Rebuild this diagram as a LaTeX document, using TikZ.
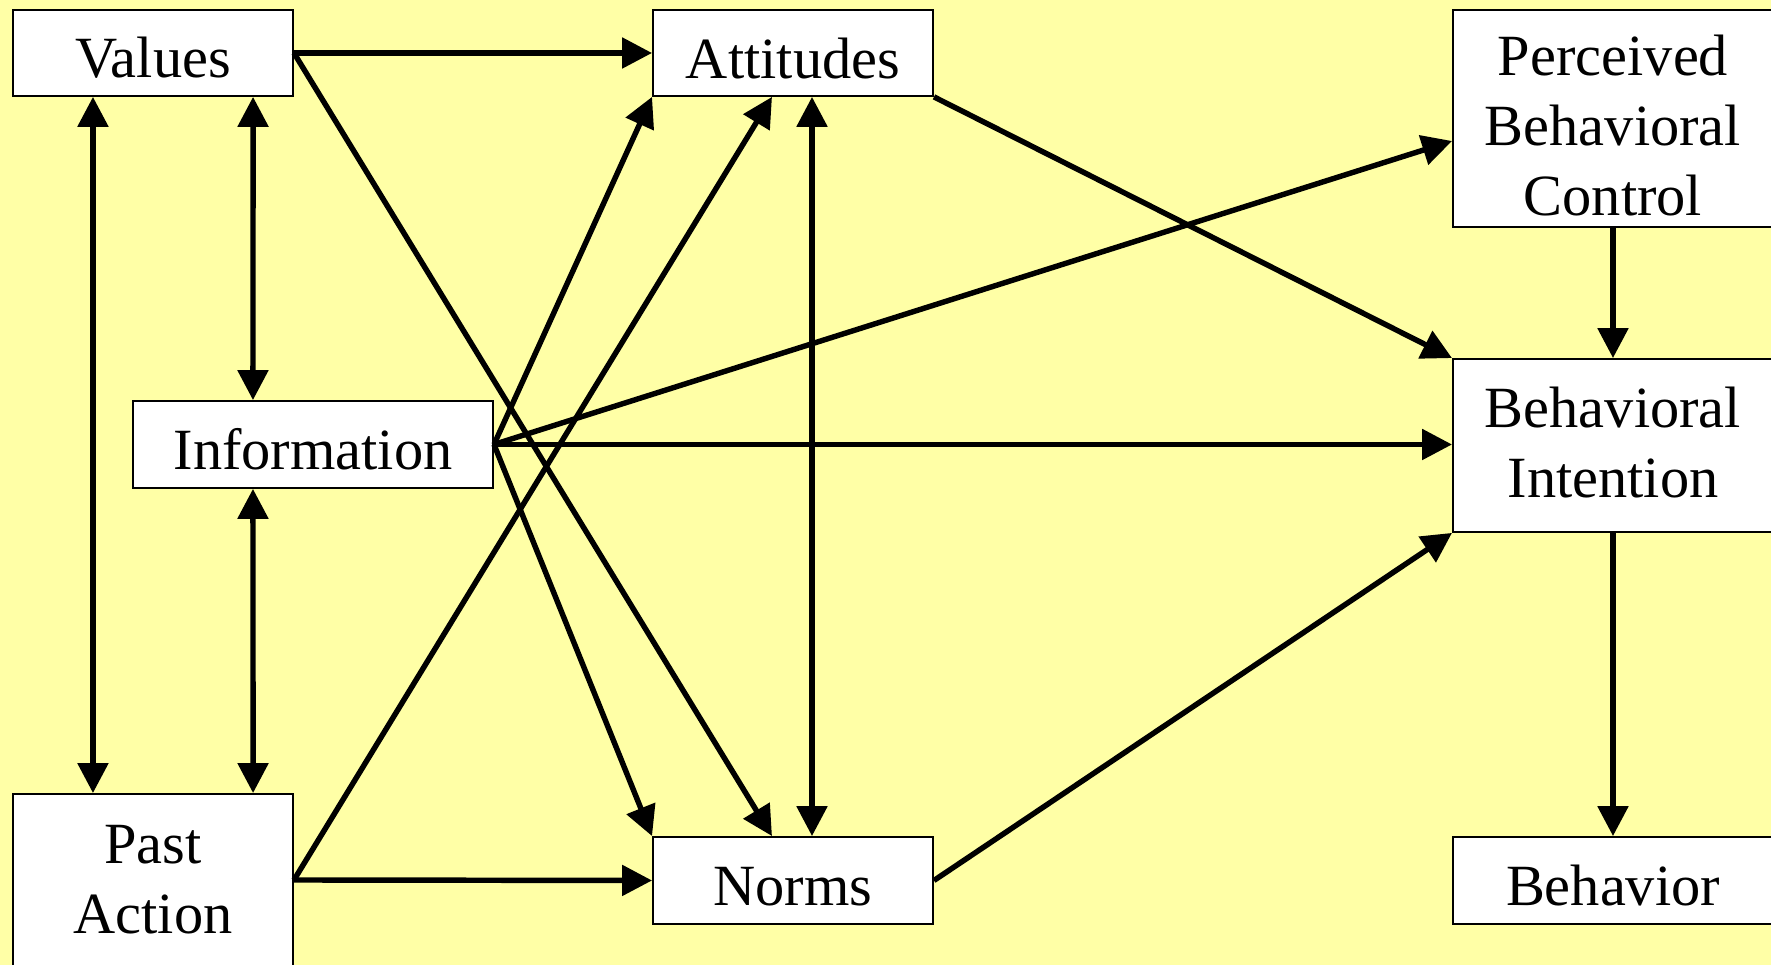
\documentclass[tikz,border=0pt]{standalone}
\usepackage{fontspec}
\setmainfont{Liberation Serif}
\usetikzlibrary{arrows.meta,calc}
\definecolor{bg}{RGB}{255,255,166}
\begin{document}
\begin{tikzpicture}[x=0.01cm,y=-0.01cm,
  box/.style={draw=black,line width=0.5pt,fill=white,inner sep=0pt,align=center,
    font=\fontsize{16.6}{20}\selectfont},
  one/.style={box,execute at begin node={\rule{0pt}{14.4pt}}},
  tip/.tip={Triangle[length=8.5pt,width=8.5pt]},
  conn/.style={line width=1.55pt,-tip},
  both/.style={line width=1.55pt,tip-tip}]
\fill[bg] (0,0) rectangle (1771,965);
\path[use as bounding box] (0,0) rectangle (1771,965);
\begin{scope}
\clip (0,0) rectangle (1771,965);
\node[one,minimum width=2.8cm,minimum height=0.86cm] (values) at (153,53) {Values};
\node[one,minimum width=2.8cm,minimum height=0.86cm] (att) at (793,53) {Attitudes};
\node[box,minimum width=3.2cm,minimum height=2.17cm] (pbc) at (1613,118.5) {\rule{0pt}{15.5pt}Perceived\\Behavioral\\Control};
\node[one,minimum width=3.6cm,minimum height=0.87cm] (info) at (313,444.5) {Information};
\node[box,minimum width=3.2cm,minimum height=1.73cm] (bi) at (1613,445.5) {Behavioral\\Intention\rule[-2pt]{0pt}{0pt}};
\node[box,minimum width=2.8cm,minimum height=1.72cm] (past) at (153,880) {Past\\Action};
\node[one,minimum width=2.8cm,minimum height=0.87cm] (norms) at (793,880.5) {Norms};
\node[one,minimum width=3.2cm,minimum height=0.87cm] (beh) at (1613,880.5) {Behavior};

\draw[conn] (values.east) -- (att.west);
\draw[conn] (values.east) -- ([xshift=-0.21cm]norms.north);
\draw[both] ([xshift=-0.6cm]values.south) -- ([xshift=-0.6cm]past.north);
\draw[both] ([xshift=1cm]values.south) -- ([xshift=-0.6cm]info.north);
\draw[both] ([xshift=-0.6cm]info.south) -- ([xshift=1cm]past.north);
\draw[conn] (info.east) -- (att.south west);
\draw[conn] (info.east) -- (norms.north west);
\draw[conn] (info.east) -- ([yshift=-0.225cm]pbc.west);
\draw[conn] (info.east) -- (info.east -| bi.west);
\draw[conn] (past.east) -- ([xshift=-0.21cm]att.south);
\draw[conn] (past.east) -- (norms.west);
\draw[both] ([xshift=0.19cm]att.south) -- ([xshift=0.19cm]norms.north);
\draw[conn] (att.south east) -- (bi.north west);
\draw[conn] (norms.east) -- (bi.south west);
\draw[conn] (pbc.south) -- (bi.north);
\draw[conn] (bi.south) -- (beh.north);
\end{scope}
\end{tikzpicture}
\end{document}
